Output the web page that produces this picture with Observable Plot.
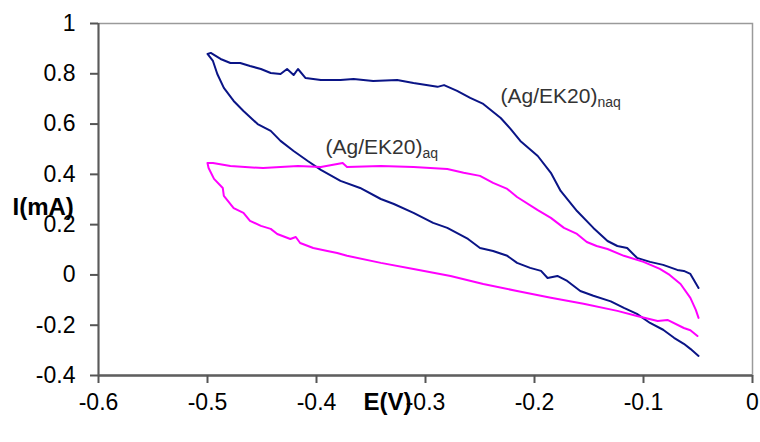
<!DOCTYPE html>
<html>
<head>
<meta charset="utf-8">
<script src="https://cdn.jsdelivr.net/npm/d3@7"></script>
<script src="https://cdn.jsdelivr.net/npm/@observablehq/plot@0.6"></script>
<style>
  html, body { margin: 0; padding: 0; background: #fff; }
</style>
</head>
<body>
<div id="chart"></div>
<script>
// Cyclic voltammograms: potential E (V) and current I (mA).
// Each trace runs from the cathodic end of the reverse sweep, back to -0.5 V,
// then along the forward sweep to -0.05 V.

// (Ag/EK20) in non-aqueous electrolyte
const naqE = [-0.0495, -0.057, -0.063, -0.072, -0.082, -0.094, -0.106, -0.118, -0.130, -0.146,
  -0.158, -0.170, -0.179, -0.188, -0.194, -0.204, -0.216, -0.225, -0.238, -0.250,
  -0.261, -0.280, -0.293, -0.311, -0.329, -0.341, -0.360, -0.378, -0.396, -0.408,
  -0.421, -0.433, -0.442, -0.454, -0.467, -0.476, -0.485, -0.491, -0.495, -0.500,
  -0.497, -0.488, -0.479, -0.470, -0.461, -0.451, -0.442, -0.433, -0.427, -0.421,
  -0.417, -0.410, -0.396, -0.378, -0.366, -0.348, -0.326, -0.311, -0.289, -0.283,
  -0.271, -0.259, -0.247, -0.231, -0.222, -0.213, -0.197, -0.185, -0.176, -0.161,
  -0.146, -0.133, -0.124, -0.115, -0.106, -0.094, -0.082, -0.069, -0.063, -0.057, -0.0495];
const naqI = [-0.322, -0.294, -0.274, -0.250, -0.218, -0.191, -0.155, -0.131, -0.105, -0.083,
  -0.064, -0.024, -0.004, -0.012, 0.016, 0.028, 0.048, 0.076, 0.095, 0.107,
  0.143, 0.187, 0.207, 0.247, 0.282, 0.302, 0.346, 0.374, 0.418, 0.453,
  0.493, 0.533, 0.573, 0.600, 0.652, 0.692, 0.744, 0.799, 0.851, 0.879,
  0.883, 0.859, 0.843, 0.843, 0.831, 0.819, 0.803, 0.799, 0.819, 0.795,
  0.819, 0.783, 0.775, 0.775, 0.779, 0.771, 0.775, 0.763, 0.748, 0.755,
  0.732, 0.704, 0.680, 0.624, 0.581, 0.533, 0.473, 0.406, 0.334, 0.254,
  0.187, 0.135, 0.115, 0.107, 0.068, 0.052, 0.040, 0.020, 0.016, 0.004, -0.052];

// (Ag/EK20) in aqueous electrolyte
const aqE = [-0.0505, -0.057, -0.063, -0.078, -0.087, -0.106, -0.124, -0.155, -0.185, -0.216,
  -0.247, -0.277, -0.311, -0.341, -0.372, -0.381, -0.390, -0.403, -0.415, -0.419,
  -0.424, -0.436, -0.442, -0.451, -0.461, -0.467, -0.476, -0.485, -0.486, -0.494,
  -0.499, -0.500,
  -0.495, -0.479, -0.449, -0.417, -0.396, -0.376, -0.372, -0.341, -0.311, -0.280,
  -0.265, -0.250, -0.238, -0.225, -0.216, -0.197, -0.185, -0.173, -0.161, -0.152,
  -0.143, -0.133, -0.118, -0.100, -0.085, -0.076, -0.066, -0.057, -0.052, -0.0495];
const aqI = [-0.243, -0.220, -0.211, -0.179, -0.183, -0.163, -0.143, -0.115, -0.091, -0.064,
  -0.036, -0.004, 0.024, 0.048, 0.076, 0.087, 0.095, 0.107, 0.127, 0.151,
  0.143, 0.163, 0.183, 0.195, 0.215, 0.247, 0.266, 0.314, 0.346, 0.382,
  0.425, 0.445,
  0.445, 0.433, 0.425, 0.433, 0.429, 0.445, 0.429, 0.433, 0.429, 0.421,
  0.406, 0.394, 0.366, 0.342, 0.310, 0.258, 0.227, 0.187, 0.163, 0.131,
  0.115, 0.103, 0.076, 0.052, 0.024, 0.000, -0.036, -0.091, -0.139, -0.171];

// Axis ticks and their printed labels
const xTicks = [-0.6, -0.5, -0.4, -0.3, -0.2, -0.1, 0];
const xTickLabels = ["-0.6", "-0.5", "-0.4", "-0.3", "-0.2", "-0.1", "0"];
const yTicks = [-0.4, -0.2, 0, 0.2, 0.4, 0.6, 0.8, 1];
const yTickLabels = ["-0.4", "-0.2", "0", "0.2", "0.4", "0.6", "0.8", "1"];

// Curve annotations: main text plus subscript, anchored at (E, I)
const labelMain = ["(Ag/EK20)", "(Ag/EK20)"];
const labelSub = ["naq", "aq"];
const labelE = [-0.2312, -0.3917];
const labelI = [0.684, 0.481];

const traces = [
  ...naqE.map((e, i) => ({ E: e, I: naqI[i], series: "naq" })),
  ...aqE.map((e, i) => ({ E: e, I: aqI[i], series: "aq" }))
];
const labels = labelMain.map((t, i) => ({ main: t, sub: labelSub[i], E: labelE[i], I: labelI[i] }));

const font = "'Liberation Sans', Arial, Helvetica, sans-serif";

const chart = Plot.plot({
  width: 760,
  height: 442,
  marginLeft: 98,
  marginRight: 8,
  marginTop: 23,
  marginBottom: 67,
  style: { fontFamily: font, fontSize: "23px", color: "#000", background: "#fff", overflow: "visible" },
  x: { domain: [-0.6, 0] },
  y: { domain: [-0.4, 1] },
  color: { domain: ["naq", "aq"], range: ["#0a1486", "#ff00ff"] },
  marks: [
    Plot.frame({ stroke: "#9a9a9a", strokeWidth: 1.5 }),
    Plot.ruleX([-0.6], { stroke: "#5a5a5a", strokeWidth: 2 }),
    Plot.ruleY([-0.4], { stroke: "#5f5f5f", strokeWidth: 2.5 }),
    Plot.axisX({
      ticks: xTicks, tickSize: 8, tickPadding: 10, stroke: "#555", strokeWidth: 2,
      tickFormat: (d) => xTickLabels[xTicks.indexOf(d)], label: null, fontSize: 23
    }),
    Plot.axisY({
      ticks: yTicks, tickSize: 8, tickPadding: 15, stroke: "#555", strokeWidth: 2,
      tickFormat: (d) => yTickLabels[yTicks.indexOf(d)], label: null, fontSize: 23
    }),
    Plot.line(traces, { x: "E", y: "I", z: "series", stroke: "series", strokeWidth: 2, curve: "linear" }),
    Plot.text(labels, {
      x: "E", y: "I", text: "main", textAnchor: "start", lineAnchor: "bottom",
      fontSize: 21, fill: "#333"
    }),
    Plot.text(labels, {
      x: "E", y: "I", text: "sub", textAnchor: "start", lineAnchor: "bottom",
      fontSize: 14, fill: "#333", dx: 97, dy: 4
    }),
    Plot.text(["I(mA)"], {
      frameAnchor: "left", text: (d) => d, textAnchor: "start", lineAnchor: "middle",
      dx: -86, dy: 8, fontSize: 24, fontWeight: "bold", fill: "#000"
    }),
    Plot.text(["E(V)"], {
      frameAnchor: "bottom", text: (d) => d, textAnchor: "middle", lineAnchor: "top",
      dx: -38, dy: 17, fontSize: 24, fontWeight: "bold", fill: "#000"
    })
  ]
});

document.getElementById("chart").appendChild(chart);
</script>
</body>
</html>
